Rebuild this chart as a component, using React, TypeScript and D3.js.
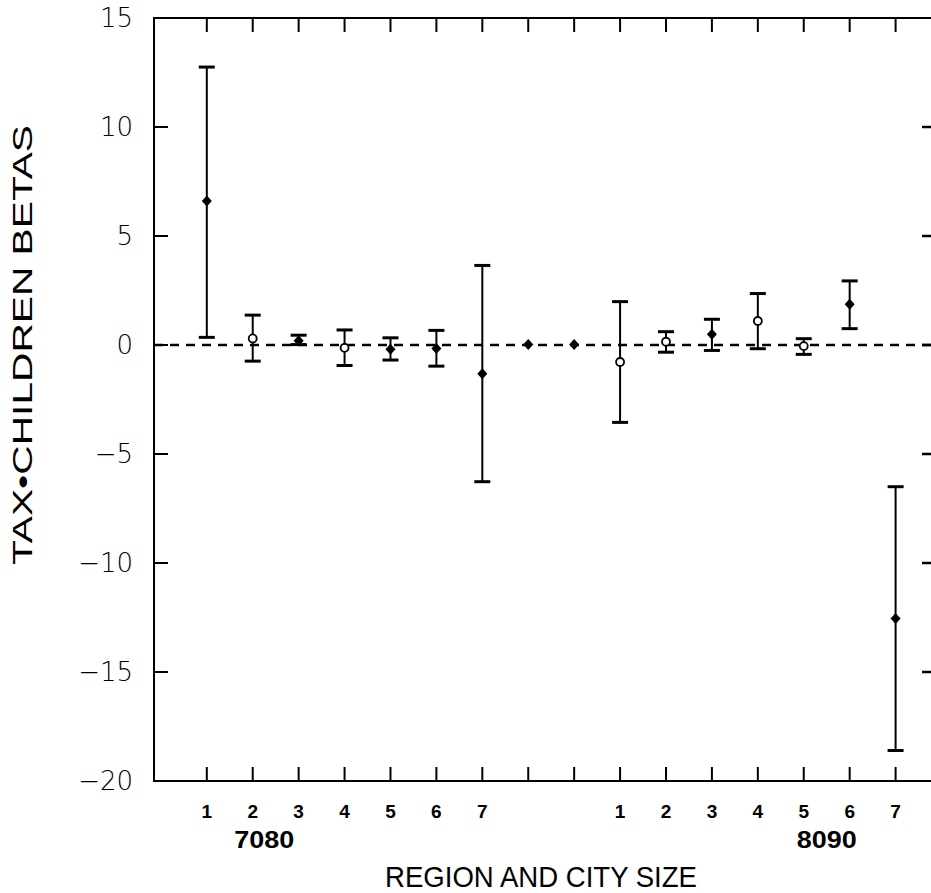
import { useEffect, useRef } from 'react';
import * as d3 from 'd3';

// positions 1..16 along the x axis (7 for 7080, 2 blanks, 7 for 8090)
const positions = [1, 2, 3, 4, 5, 6, 7, 8, 9, 10, 11, 12, 13, 14, 15, 16];
const betas = [6.6, 0.3, 0.2, -0.13, -0.2, -0.16, -1.32, 0.02, 0.02, -0.78, 0.15, 0.49, 1.1, -0.05, 1.87, -12.55];
const upper = [12.75, 1.37, 0.45, 0.69, 0.33, 0.67, 3.65, null, null, 1.99, 0.61, 1.18, 2.36, 0.29, 2.94, -6.5];
const lower = [0.35, -0.74, 0.02, -0.94, -0.69, -0.97, -6.27, null, null, -3.55, -0.33, -0.25, -0.17, -0.43, 0.75, -18.6];
const markerType = ['diamond', 'circle', 'diamond', 'circle', 'diamond', 'diamond', 'diamond', 'diamond', 'diamond', 'circle', 'circle', 'diamond', 'circle', 'circle', 'diamond', 'diamond'];
const tickLabels = ['1', '2', '3', '4', '5', '6', '7', '', '', '1', '2', '3', '4', '5', '6', '7'];
const groupLabels = [
  { pos: 2.25, text: '7080' },
  { pos: 14.5, text: '8090' },
];
const yTicks = [15, 10, 5, 0, -5, -10, -15, -20];

const W = 931;
const H = 893;

const App = () => {
  const svgRef = useRef<SVGSVGElement>(null);

  useEffect(() => {
    document.body.style.margin = '0';
    const svg = d3.select(svgRef.current);
    svg.selectAll('*').remove();

    const left = 154, right = 936, top = 18, bottom = 781;
    const x = d3.scaleLinear().domain([-0.15, 16.88]).range([left, right]);
    const y = d3.scaleLinear().domain([-20, 15]).range([bottom, top]);
    const font = '"Liberation Sans", Arial, sans-serif';
    const tickLen = 14;

    // frame
    svg.append('rect')
      .attr('x', left).attr('y', top)
      .attr('width', right - left).attr('height', bottom - top)
      .attr('fill', 'none').attr('stroke', '#000').attr('stroke-width', 2);

    // x ticks top and bottom (inward)
    positions.forEach((p) => {
      svg.append('line')
        .attr('x1', x(p)).attr('x2', x(p))
        .attr('y1', top).attr('y2', top + tickLen)
        .attr('stroke', '#000').attr('stroke-width', 2);
      svg.append('line')
        .attr('x1', x(p)).attr('x2', x(p))
        .attr('y1', bottom).attr('y2', bottom - tickLen)
        .attr('stroke', '#000').attr('stroke-width', 2);
    });

    // y ticks left and right (inward)
    yTicks.forEach((t) => {
      if (t === 15 || t === -20) return;
      svg.append('line')
        .attr('x1', left).attr('x2', left + tickLen)
        .attr('y1', y(t)).attr('y2', y(t))
        .attr('stroke', '#000').attr('stroke-width', 2);
      svg.append('line')
        .attr('x1', right).attr('x2', right - tickLen)
        .attr('y1', y(t)).attr('y2', y(t))
        .attr('stroke', '#000').attr('stroke-width', 2.5);
    });

    // y tick labels
    svg.append('g')
      .selectAll('text')
      .data(yTicks)
      .join('text')
      .attr('x', 133)
      .attr('y', (d) => y(d))
      .attr('dy', '0.36em')
      .attr('text-anchor', 'end')
      .style('font-family', '"DejaVu Sans", sans-serif')
      .style('font-size', '26px')
      .style('font-weight', 300)
      .text((d) => (d < 0 ? '\u2212' + Math.abs(d) : String(d)));

    // y title
    svg.append('text')
      .attr('transform', `translate(32,345) rotate(-90)`)
      .attr('text-anchor', 'middle')
      .attr('textLength', 440)
      .attr('lengthAdjust', 'spacingAndGlyphs')
      .style('font-family', font)
      .style('font-size', '28px')
      .text('TAX\u2022CHILDREN BETAS');

    // x tick labels
    svg.append('g')
      .selectAll('text')
      .data(positions)
      .join('text')
      .attr('x', (d) => x(d))
      .attr('y', 818)
      .attr('text-anchor', 'middle')
      .style('font-family', font)
      .style('font-size', '19px')
      .style('font-weight', 'bold')
      .text((d, i) => tickLabels[i]);

    svg.append('g')
      .selectAll('text')
      .data(groupLabels)
      .join('text')
      .attr('x', (d) => x(d.pos))
      .attr('y', 848)
      .attr('text-anchor', 'middle')
      .attr('textLength', 60)
      .attr('lengthAdjust', 'spacingAndGlyphs')
      .style('font-family', font)
      .style('font-size', '24px')
      .style('font-weight', 'bold')
      .text((d) => d.text);

    svg.append('text')
      .attr('x', 541)
      .attr('y', 887)
      .attr('text-anchor', 'middle')
      .attr('textLength', 312)
      .attr('lengthAdjust', 'spacingAndGlyphs')
      .style('font-family', font)
      .style('font-size', '30px')
      .text('REGION AND CITY SIZE');

    // zero reference line
    svg.append('line')
      .attr('x1', left).attr('x2', right)
      .attr('y1', y(0)).attr('y2', y(0))
      .attr('stroke', '#000').attr('stroke-width', 2.5)
      .attr('stroke-dasharray', '9,7');

    // error bars
    const capW = 8;
    positions.forEach((p, i) => {
      const u = upper[i];
      const l = lower[i];
      if (u !== null && l !== null) {
        svg.append('line')
          .attr('x1', x(p)).attr('x2', x(p))
          .attr('y1', y(u)).attr('y2', y(l))
          .attr('stroke', '#000').attr('stroke-width', 2);
        [u, l].forEach((v) => {
          svg.append('line')
            .attr('x1', x(p) - capW).attr('x2', x(p) + capW)
            .attr('y1', y(v)).attr('y2', y(v))
            .attr('stroke', '#000').attr('stroke-width', 3);
        });
      }
      const cx = x(p), cy = y(betas[i]);
      if (markerType[i] === 'diamond') {
        svg.append('path')
          .attr('d', `M${cx},${cy - 5.5}L${cx + 5},${cy}L${cx},${cy + 5.5}L${cx - 5},${cy}Z`)
          .attr('fill', '#000');
      } else {
        svg.append('circle')
          .attr('cx', cx).attr('cy', cy).attr('r', 4)
          .attr('fill', '#fff').attr('stroke', '#000').attr('stroke-width', 1.8);
      }
    });
  }, []);

  return <svg ref={svgRef} width={W} height={H} style={{ display: 'block', background: '#fff' }} />;
};

export default App;
